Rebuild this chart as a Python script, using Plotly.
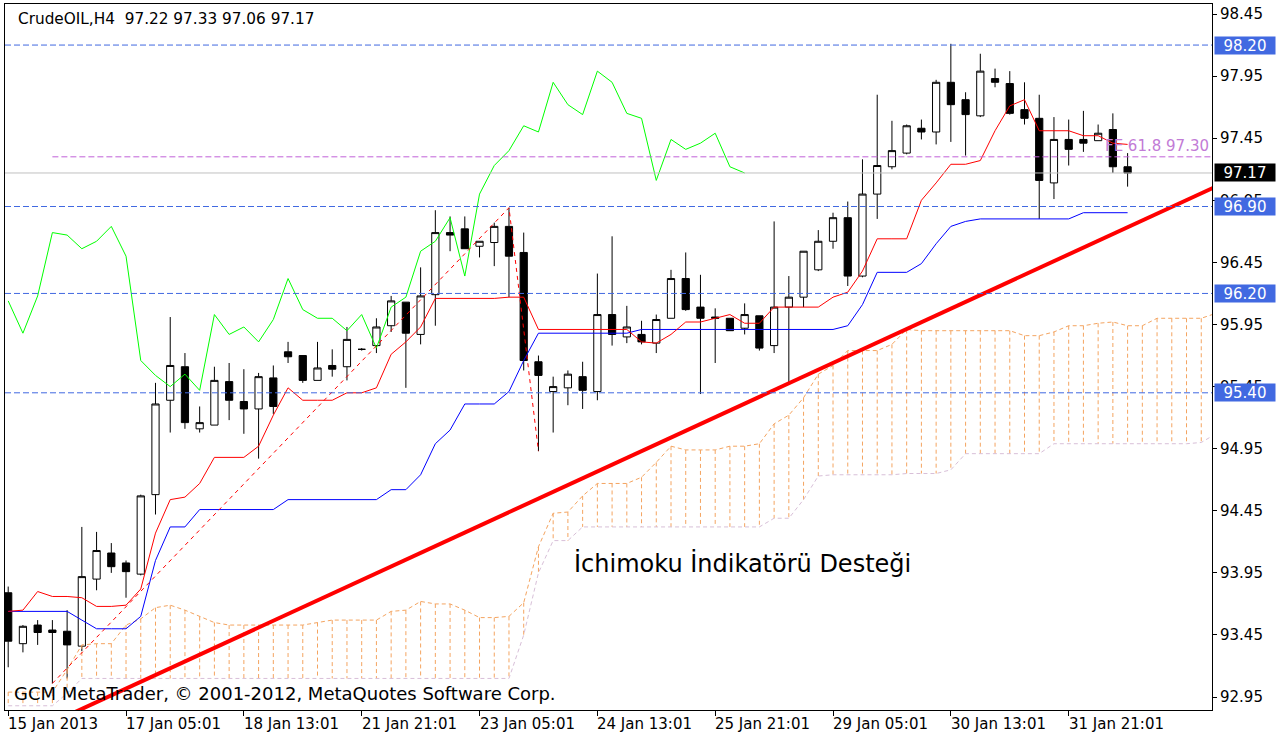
import plotly.graph_objects as go

# ---------------- data ----------------
bar_idx = list(range(77))
opens = [93.79, 93.38, 93.53, 93.49, 93.48, 93.36, 93.90, 94.11, 94.03, 93.94,
         94.58, 95.34, 95.61, 95.11, 95.14, 95.49, 95.33, 95.27, 95.52, 95.73,
         95.70, 95.50, 95.62, 95.61, 95.75, 95.78, 95.94, 96.13, 95.87, 96.19,
         96.69, 96.72, 96.58, 96.61, 96.74, 96.53, 95.65, 95.41, 95.44, 95.53,
         95.41, 96.03, 95.85, 95.87, 95.80, 96.00, 96.32, 96.09, 96.01, 96.00,
         95.92, 96.02, 95.78, 96.09, 96.17, 96.39, 96.62, 96.81, 96.34, 97.00,
         97.22, 97.33, 97.53, 97.50, 97.90, 97.76, 97.63, 97.93, 97.89, 97.68,
         97.61, 97.09, 97.44, 97.44, 97.43, 97.52, 97.22]
highs = [93.84, 93.53, 93.57, 93.57, 93.65, 94.32, 94.28, 94.19, 94.05, 94.58,
         95.48, 96.01, 95.72, 95.29, 95.61, 95.64, 95.59, 95.56, 95.62, 95.81,
         95.70, 95.81, 95.75, 95.93, 95.76, 96.00, 96.18, 96.13, 96.41, 96.87,
         96.82, 96.82, 96.62, 96.77, 96.89, 96.69, 95.70, 95.53, 95.58, 95.65,
         96.36, 96.66, 96.10, 95.98, 96.03, 96.39, 96.53, 96.35, 96.08, 96.00,
         96.12, 96.02, 96.78, 96.34, 96.54, 96.71, 96.85, 96.94, 97.28, 97.80,
         97.59, 97.56, 97.60, 97.92, 98.21, 97.82, 98.13, 98.01, 97.99, 97.90,
         97.80, 97.62, 97.60, 97.67, 97.56, 97.65, 97.33]
lows = [93.19, 93.31, 93.37, 93.06, 93.10, 93.32, 93.81, 93.95, 93.75, 93.93,
        94.42, 95.08, 95.11, 95.08, 95.14, 95.18, 95.07, 94.87, 95.23, 95.64,
        95.48, 95.50, 95.53, 95.50, 95.74, 95.72, 95.89, 95.44, 95.79, 95.94,
        96.54, 96.56, 96.49, 96.42, 96.17, 95.58, 94.93, 95.08, 95.30, 95.27,
        95.34, 95.78, 95.80, 95.79, 95.72, 96.00, 96.06, 95.39, 95.64, 95.90,
        95.87, 95.74, 95.72, 95.48, 96.09, 96.38, 96.56, 96.26, 96.33, 96.80,
        97.20, 97.32, 97.44, 97.40, 97.42, 97.31, 97.62, 97.86, 97.64, 97.56,
        96.80, 96.96, 97.23, 97.34, 97.43, 97.17, 97.06]
closes = [93.40, 93.52, 93.47, 93.47, 93.37, 93.92, 94.13, 94.00, 93.96, 94.57,
          95.31, 95.62, 95.16, 95.16, 95.50, 95.34, 95.27, 95.53, 95.29, 95.69,
          95.50, 95.60, 95.59, 95.83, 95.75, 95.93, 96.14, 95.88, 96.18, 96.69,
          96.67, 96.56, 96.62, 96.74, 96.50, 95.66, 95.54, 95.45, 95.55, 95.42,
          96.03, 95.87, 95.93, 95.81, 95.99, 96.32, 96.07, 96.00, 96.00, 95.90,
          96.03, 95.76, 96.09, 96.17, 96.54, 96.62, 96.81, 96.34, 97.00, 97.23,
          97.35, 97.55, 97.50, 97.90, 97.72, 97.64, 97.99, 97.90, 97.65, 97.61,
          97.11, 97.44, 97.36, 97.41, 97.49, 97.22, 97.17]

tenkan = [93.64, 93.65, 93.80, 93.76, 93.76, 93.75, 93.68, 93.68, 93.69, 93.82,
          94.27, 94.54, 94.56, 94.67, 94.88, 94.88, 94.88, 94.97, 95.22, 95.44,
          95.34, 95.34, 95.34, 95.40, 95.40, 95.44, 95.71, 95.81, 95.93, 96.16,
          96.16, 96.16, 96.16, 96.16, 96.17, 96.17, 95.91, 95.91, 95.91, 95.91,
          95.91, 95.91, 95.91, 95.81, 95.80, 95.87, 95.97, 95.97, 96.00, 96.03,
          95.96, 95.96, 96.09, 96.09, 96.09, 96.09, 96.17, 96.21, 96.38, 96.64,
          96.64, 96.64, 96.95, 97.09, 97.24, 97.24, 97.27, 97.51, 97.71, 97.76,
          97.51, 97.51, 97.51, 97.47, 97.47, 97.41, 97.40]
kijun = [93.64, 93.64, 93.64, 93.64, 93.64, 93.57, 93.50, 93.50, 93.50, 93.60,
         94.05, 94.32, 94.32, 94.46, 94.46, 94.46, 94.46, 94.46, 94.46, 94.54,
         94.54, 94.54, 94.54, 94.54, 94.54, 94.54, 94.62, 94.62, 94.74, 94.99,
         95.10, 95.31, 95.31, 95.31, 95.41, 95.66, 95.88, 95.88, 95.88, 95.88,
         95.88, 95.88, 95.88, 95.91, 95.91, 95.91, 95.91, 95.91, 95.91, 95.91,
         95.91, 95.91, 95.91, 95.91, 95.91, 95.91, 95.91, 95.94, 96.11, 96.37,
         96.37, 96.37, 96.44, 96.60, 96.74, 96.78, 96.80, 96.80, 96.80, 96.80,
         96.80, 96.80, 96.80, 96.85, 96.85, 96.85, 96.85]

cloud_idx = list(range(83))
span_a = [92.99, 92.99, 92.99, 92.99, 93.17, 93.37, 93.38, 93.38, 93.53, 93.58,
          93.67, 93.69, 93.65, 93.60, 93.55, 93.53, 93.53, 93.53, 93.53, 93.53,
          93.53, 93.55, 93.57, 93.57, 93.57, 93.57, 93.64, 93.65, 93.72, 93.70,
          93.70, 93.65, 93.59, 93.59, 93.60, 93.71, 94.16, 94.43, 94.44, 94.57,
          94.67, 94.67, 94.67, 94.72, 94.84, 94.97, 94.94, 94.94, 94.94, 94.97,
          94.97, 94.99, 95.15, 95.22, 95.36, 95.55, 95.62, 95.74, 95.74, 95.74,
          95.79, 95.91, 95.90, 95.90, 95.90, 95.90, 95.90, 95.90, 95.90, 95.86,
          95.86, 95.89, 95.94, 95.94, 95.96, 95.97, 95.94, 95.94, 96.00, 96.00,
          96.00, 96.00, 96.04]
span_b = [92.88, 92.88, 92.88, 92.88, 92.98, 93.10, 93.10, 93.10, 93.10, 93.10,
          93.10, 93.10, 93.10, 93.10, 93.10, 93.10, 93.10, 93.10, 93.10, 93.10,
          93.10, 93.10, 93.10, 93.10, 93.10, 93.10, 93.10, 93.10, 93.10, 93.10,
          93.10, 93.10, 93.10, 93.10, 93.10, 93.45, 93.95, 94.21, 94.21, 94.32,
          94.32, 94.32, 94.32, 94.32, 94.32, 94.32, 94.32, 94.32, 94.32, 94.32,
          94.32, 94.32, 94.39, 94.39, 94.54, 94.73, 94.74, 94.74, 94.74, 94.74,
          94.74, 94.75, 94.75, 94.75, 94.78, 94.91, 94.91, 94.91, 94.91, 94.91,
          94.91, 94.99, 94.99, 94.99, 94.99, 94.99, 94.99, 94.99, 94.99, 94.99,
          94.99, 95.00, 95.07]

chikou_shift = 26
level_lines = [98.20, 96.90, 96.20, 95.40]
bid_price = 97.17
fe_level = 97.30
fe_points = [3, 34, 36]
trend_x = [4.0, 84.0]
trend_y = [92.80, 97.17]

tick_bars = [0, 8, 16, 24, 32, 40, 48, 56, 64, 72]
tick_text = ["15 Jan 2013", "17 Jan 05:01", "18 Jan 13:01", "21 Jan 21:01", "23 Jan 05:01",
             "24 Jan 13:01", "25 Jan 21:01", "29 Jan 05:01", "30 Jan 13:01", "31 Jan 21:01"]
price_ticks = [92.95, 93.45, 93.95, 94.45, 94.95, 95.45, 95.95, 96.45, 96.95, 97.45, 97.95, 98.45]

FONT = "DejaVu Sans"
SANDY = "#F4A460"
THISTLE = "#D8BFD8"
ROYAL = "#4169E1"

fig = go.Figure()

# Kumo histogram (vertical dotted segments between span A and span B)
hx, hy = [], []
for i, a, b in zip(cloud_idx, span_a, span_b):
    hx += [i, i, None]
    hy += [a, b, None]
fig.add_trace(go.Scatter(x=hx, y=hy, mode="lines", connectgaps=False,
                         line=dict(color=SANDY, width=1, dash="4px,3px"), hoverinfo="skip"))
fig.add_trace(go.Scatter(x=cloud_idx, y=span_b, mode="lines",
                         line=dict(color=THISTLE, width=1, dash="4px,3px"), hoverinfo="skip"))
fig.add_trace(go.Scatter(x=cloud_idx, y=span_a, mode="lines",
                         line=dict(color=SANDY, width=1, dash="4px,3px"), hoverinfo="skip"))

# candles
fig.add_trace(go.Candlestick(
    x=bar_idx, open=opens, high=highs, low=lows, close=closes,
    increasing=dict(line=dict(color="black", width=1), fillcolor="white"),
    decreasing=dict(line=dict(color="black", width=1), fillcolor="black"),
    whiskerwidth=0, hoverinfo="skip"))

# Chikou (close shifted back)
fig.add_trace(go.Scatter(x=[i - chikou_shift for i in bar_idx[chikou_shift:]],
                         y=closes[chikou_shift:], mode="lines",
                         line=dict(color="#00FF00", width=1), hoverinfo="skip"))
# Kijun, Tenkan
fig.add_trace(go.Scatter(x=bar_idx, y=kijun, mode="lines",
                         line=dict(color="#0000FF", width=1), hoverinfo="skip"))
fig.add_trace(go.Scatter(x=bar_idx, y=tenkan, mode="lines",
                         line=dict(color="#FF0000", width=1), hoverinfo="skip"))

# Fibonacci expansion zig-zag
fe_y = [lows[fe_points[0]], highs[fe_points[1]], lows[fe_points[2]]]
fig.add_trace(go.Scatter(x=fe_points, y=fe_y, mode="lines",
                         line=dict(color="#FF0000", width=1, dash="4px,4px"), hoverinfo="skip"))

# main trend line
fig.add_trace(go.Scatter(x=trend_x, y=trend_y, mode="lines",
                         line=dict(color="#FF0000", width=4), hoverinfo="skip"))

shapes = []
for lv in level_lines:
    shapes.append(dict(type="line", xref="paper", x0=0, x1=1, yref="y", y0=lv, y1=lv,
                       line=dict(color=ROYAL, width=1, dash="6px,3px")))
shapes.append(dict(type="line", xref="paper", x0=0, x1=1, yref="y", y0=bid_price, y1=bid_price,
                   line=dict(color="#C0C0C0", width=1)))
shapes.append(dict(type="line", xref="x", x0=fe_points[0], x1=90, yref="y", y0=fe_level, y1=fe_level,
                   line=dict(color="#C060D8", width=1, dash="6px,3px")))

ann = []
for tb, tt in zip(tick_bars, tick_text):
    ann.append(dict(x=tb, xref="x", y=0, yref="paper", text=tt, showarrow=False,
                    xanchor="left", yanchor="top", yshift=-3, xshift=-2,
                    font=dict(family=FONT, size=15, color="black")))
for lv in level_lines:
    ann.append(dict(x=1, xref="paper", y=lv, yref="y", text=f"{lv:.2f}", showarrow=False,
                    xanchor="left", yanchor="middle", xshift=2, width=60, height=17,
                    bgcolor=ROYAL, borderpad=0, align="center",
                    font=dict(family=FONT, size=15, color="white")))
ann.append(dict(x=1, xref="paper", y=bid_price, yref="y", text=f"{bid_price:.2f}", showarrow=False,
                xanchor="left", yanchor="middle", xshift=2, width=60, height=17,
                bgcolor="black", borderpad=0, align="center",
                font=dict(family=FONT, size=15, color="white")))
ann.append(dict(x=1, xref="paper", y=fe_level, yref="y", text=f"FE 61.8 {fe_level:.2f}",
                showarrow=False, xanchor="right", yanchor="bottom", xshift=-1,
                font=dict(family=FONT, size=15, color="#C27BD6")))
ann.append(dict(x=0.009, xref="paper", y=0.979, yref="paper",
                text=f"CrudeOIL,H4  {opens[-1]:.2f} {highs[-1]:.2f} {lows[-1]:.2f} {closes[-1]:.2f}",
                showarrow=False, xanchor="left", yanchor="middle",
                font=dict(family=FONT, size=15.3, color="black")))
ann.append(dict(x=0.006, xref="paper", y=0.023, yref="paper",
                text="GCM MetaTrader, © 2001-2012, MetaQuotes Software Corp.",
                showarrow=False, xanchor="left", yanchor="middle",
                font=dict(family=FONT, size=18, color="black")))
ann.append(dict(x=0.4698, xref="paper", y=0.208, yref="paper",
                text="İchimoku İndikatörü Desteği",
                showarrow=False, xanchor="left", yanchor="middle",
                font=dict(family=FONT, size=24, color="black")))

fig.update_layout(
    width=1282, height=738,
    margin=dict(l=5, r=70, t=4, b=28),
    paper_bgcolor="white", plot_bgcolor="white",
    showlegend=False,
    shapes=shapes, annotations=ann,
    xaxis=dict(range=[-0.217, 81.73], showgrid=False, zeroline=False,
               showline=True, linecolor="black", linewidth=1, mirror=True,
               ticks="outside", ticklen=5, tickcolor="black",
               tickvals=tick_bars, showticklabels=False,
               rangeslider=dict(visible=False), fixedrange=True),
    yaxis=dict(range=[92.846, 98.5305], side="right", showgrid=False, zeroline=False,
               showline=True, linecolor="black", linewidth=1, mirror=True,
               ticks="outside", ticklen=4, tickcolor="black",
               tickvals=price_ticks, ticktext=[f"{p:.2f}" for p in price_ticks],
               tickfont=dict(family=FONT, size=15, color="black"), fixedrange=True),
)

fig.write_html("out.html", config={"displayModeBar": False},
               post_script="document.body.style.margin='0px';document.body.style.overflow='hidden';")
